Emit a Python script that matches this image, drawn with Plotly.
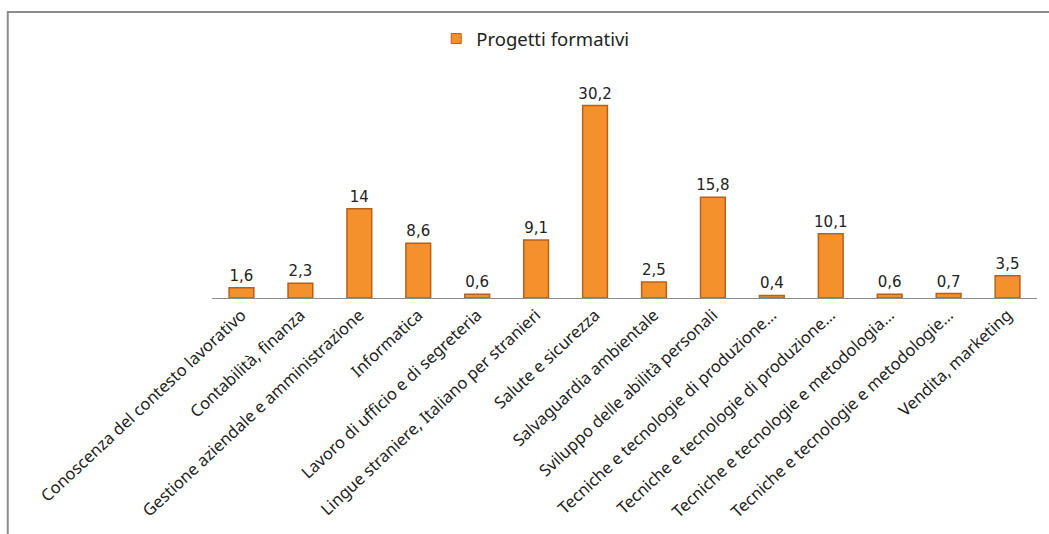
import plotly.graph_objects as go

categories = [
    "Conoscenza del contesto lavorativo",
    "Contabilità, finanza",
    "Gestione aziendale e amministrazione",
    "Informatica",
    "Lavoro di ufficio e di segreteria",
    "Lingue straniere, Italiano per stranieri",
    "Salute e sicurezza",
    "Salvaguardia ambientale",
    "Sviluppo delle abilità personali",
    "Tecniche e tecnologie di produzione…",
    "Tecniche e tecnologie di produzione…",
    "Tecniche e tecnologie e metodologia…",
    "Tecniche e tecnologie e metodologie…",
    "Vendita, marketing",
]
values = [1.6, 2.3, 14, 8.6, 0.6, 9.1, 30.2, 2.5, 15.8, 0.4, 10.1, 0.6, 0.7, 3.5]
series_name = "Progetti formativi"

# two truncated categories share identical text, so positions are used as keys
positions = list(range(len(categories)))

W, H = 1049, 534
L, R, T, B = 211.5, 11.5, 75, 236
pw = W - L - R
ph = H - T - B

BAR_FILL = "#F5912C"
BAR_EDGE = "#B8601A"

fig = go.Figure()
fig.add_trace(go.Bar(
    x=positions, y=values, name=series_name,
    marker=dict(color=BAR_FILL, line=dict(color=BAR_EDGE, width=1.5)),
    width=0.42,
    texttemplate="%{y}", textposition="outside",
    textfont=dict(family="DejaVu Sans", size=15, color="#222222"),
    constraintext="none",
    cliponaxis=False,
    showlegend=False,
    legendgroup="s",
))
# legend entry with a small square symbol
fig.add_trace(go.Scatter(
    x=[None], y=[None], mode="markers", name=series_name, legendgroup="s",
    marker=dict(symbol="square", size=10, color=BAR_FILL, line=dict(color=BAR_EDGE, width=1)),
    showlegend=True,
))

def px_x(p):
    return (p - L) / pw

def px_y(p):
    return (H - B - p) / ph

# frame (left and top edges visible)
fig.add_shape(type="rect", xref="paper", yref="paper",
              x0=px_x(7), x1=px_x(1100), y0=px_y(600), y1=px_y(12),
              line=dict(color="#8C8C8C", width=2), fillcolor="rgba(0,0,0,0)", layer="below")

fig.update_layout(
    width=W, height=H,
    margin=dict(l=L, r=R, t=T, b=B, autoexpand=False),
    paper_bgcolor="white", plot_bgcolor="white",
    separators=",.",
    font=dict(family="Noto Sans", size=16, color="#222222"),
    showlegend=True,
    legend=dict(orientation="h", x=px_x(436), xanchor="left", y=px_y(39), yanchor="middle",
                font=dict(family="Noto Sans", size=18.5, color="#222222"),
                bgcolor="rgba(0,0,0,0)", itemwidth=30),
    xaxis=dict(
        tickmode="array", tickvals=positions, ticktext=categories,
        tickangle=-43, showline=True, linecolor="#8C8C8C", linewidth=1,
        showgrid=False, zeroline=False, ticks="", range=[-0.5, len(categories) - 0.5],
        tickfont=dict(family="Noto Sans", size=16.5, color="#222222"),
    ),
    yaxis=dict(range=[0, 35], visible=False, showgrid=False, zeroline=False),
)

fig.write_html("out.html")
